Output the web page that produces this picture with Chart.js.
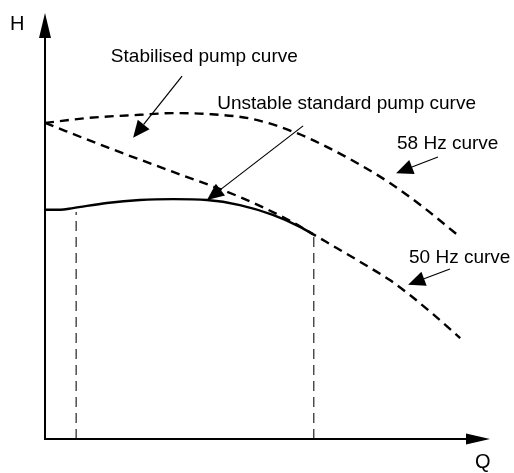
<!DOCTYPE html>
<html>
<head>
<meta charset="utf-8">
<script src="https://cdn.jsdelivr.net/npm/chart.js@4/dist/chart.umd.min.js"></script>
<style>
  body { margin: 0; background: #fff; }
</style>
</head>
<body>
<canvas id="pump-chart" width="514" height="473"></canvas>
<script>
// Q (flow) and H (head) in arbitrary units, 0..100 on both axes
const q50 = [0, 13.9, 28.8, 43.8, 55.1, 60.2, 72.4, 77.5, 82.0, 87.2, 93.3];
const h50 = [74.2, 68.5, 62.7, 56.8, 51.2, 48.1, 40.6, 37.3, 33.8, 29.3, 23.7];

const q58 = [0, 10.1, 21.3, 28.8, 36.4, 46.7, 56.6, 62.5, 70.1, 77.5, 84.9, 93.3];
const h58 = [74.2, 75.4, 76.1, 76.5, 76.3, 75.1, 71.8, 69.0, 64.8, 60.1, 54.5, 47.4];

const qUnstable = [0, 3.4, 6.3, 13.9, 21.3, 28.8, 36.4, 43.8, 51.2, 57.3, 60.2];
const hUnstable = [53.8, 53.8, 54.2, 55.4, 56.1, 56.3, 56.1, 54.9, 52.6, 49.8, 48.1];

// operating range limits (Q) and the head where each guide line stops
const qLimits = [7.0, 60.4];
const hLimits = [53.3, 47.4];

// callouts: text, text anchor (q,h), arrow start (q,h), arrow tip (q,h)
const notes = [
  ["Stabilised pump curve", [14.8, 88.5], [30.8, 85.2], [19.8, 70.7]],
  ["Unstable standard pump curve", [38.7, 77.5], [58.0, 73.5], [36.4, 56.1]],
  ["58 Hz curve", [79.1, 68.1], [88.3, 66.2], [78.9, 62.4]],
  ["50 Hz curve", [81.8, 41.3], [91.0, 39.9], [81.6, 36.2]],
];

const toPoints = (xs, ys) => xs.map((x, i) => ({ x: x, y: ys[i] }));

const curve = (label, xs, ys, dash) => ({
  label: label,
  data: toPoints(xs, ys),
  borderColor: "#000",
  borderWidth: 2.4,
  borderDash: dash,
  cubicInterpolationMode: "monotone",
  pointRadius: 0,
  clip: false,
});

const guides = qLimits.map((q, i) => ({
  label: "limit " + (i + 1),
  data: [{ x: q, y: 0 }, { x: q, y: hLimits[i] }],
  borderColor: "#222",
  borderWidth: 1.2,
  borderDash: [10, 6],
  pointRadius: 0,
  clip: false,
}));

function arrowHead(ctx, x0, y0, x1, y1, len, half) {
  const a = Math.atan2(y1 - y0, x1 - x0);
  const bx = x1 - len * Math.cos(a);
  const by = y1 - len * Math.sin(a);
  ctx.beginPath();
  ctx.moveTo(x1, y1);
  ctx.lineTo(bx + half * Math.sin(a), by - half * Math.cos(a));
  ctx.lineTo(bx - half * Math.sin(a), by + half * Math.cos(a));
  ctx.closePath();
  ctx.fill();
  return [bx, by];
}

const sketchPlugin = {
  id: "sketch",
  afterDatasetsDraw(chart) {
    const ctx = chart.ctx;
    const xs = chart.scales.x;
    const ys = chart.scales.y;
    const area = chart.chartArea;
    ctx.save();
    ctx.strokeStyle = "#000";
    ctx.fillStyle = "#000";
    ctx.setLineDash([]);

    // axes with arrow heads
    ctx.lineWidth = 2;
    let b = arrowHead(ctx, area.left, area.bottom, area.left, area.top, 25, 6);
    ctx.beginPath();
    ctx.moveTo(area.left, area.bottom + 1);
    ctx.lineTo(b[0], b[1]);
    ctx.stroke();
    b = arrowHead(ctx, area.left, area.bottom, area.right, area.bottom, 24, 5.5);
    ctx.beginPath();
    ctx.moveTo(area.left - 1, area.bottom);
    ctx.lineTo(b[0], b[1]);
    ctx.stroke();

    ctx.font = "20px 'Liberation Sans', Arial, sans-serif";
    ctx.textBaseline = "alphabetic";
    ctx.fillText("H", area.left - 35, area.top + 17);
    ctx.fillText("Q", area.right - 15, area.bottom + 29);

    // callouts
    ctx.font = "19px 'Liberation Sans', Arial, sans-serif";
    ctx.lineWidth = 1.2;
    notes.forEach((n) => {
      ctx.fillText(n[0], xs.getPixelForValue(n[1][0]), ys.getPixelForValue(n[1][1]));
      const x0 = xs.getPixelForValue(n[2][0]);
      const y0 = ys.getPixelForValue(n[2][1]);
      const x1 = xs.getPixelForValue(n[3][0]);
      const y1 = ys.getPixelForValue(n[3][1]);
      const base = arrowHead(ctx, x0, y0, x1, y1, 17, 7.5);
      ctx.beginPath();
      ctx.moveTo(x0, y0);
      ctx.lineTo(base[0], base[1]);
      ctx.stroke();
    });
    ctx.restore();
  },
};

new Chart(document.getElementById("pump-chart"), {
  type: "line",
  data: {
    datasets: [
      curve("50 Hz curve", q50, h50, [9, 6]),
      curve("58 Hz curve", q58, h58, [9, 6]),
      curve("Unstable standard pump curve", qUnstable, hUnstable, []),
    ].concat(guides),
  },
  options: {
    responsive: false,
    animation: false,
    devicePixelRatio: 1,
    layout: { padding: { left: 45, right: 24, top: 13, bottom: 34 } },
    plugins: { legend: { display: false }, tooltip: { enabled: false } },
    scales: {
      x: { type: "linear", min: 0, max: 100, display: false },
      y: { type: "linear", min: 0, max: 100, display: false },
    },
  },
  plugins: [sketchPlugin],
});
</script>
</body>
</html>
